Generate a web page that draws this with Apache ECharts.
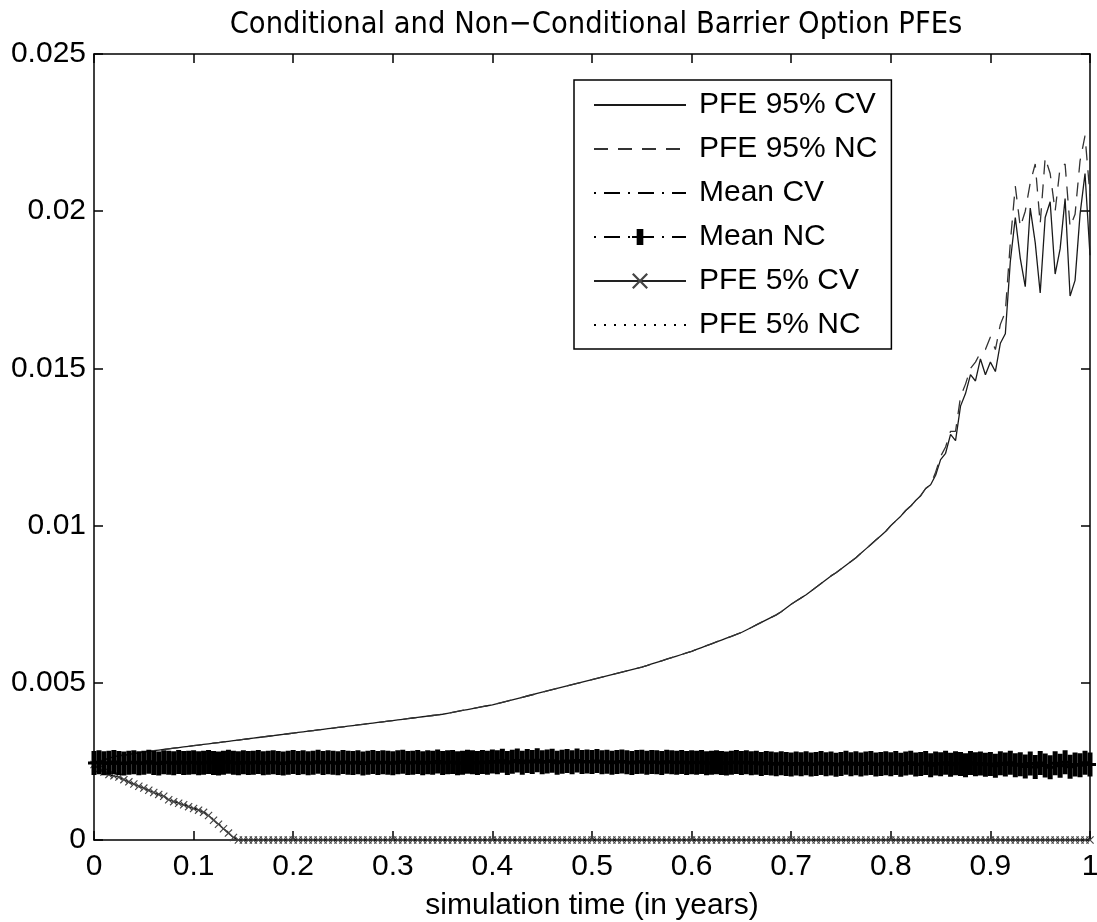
<!DOCTYPE html>
<html>
<head>
<meta charset="utf-8">
<script src="https://cdn.jsdelivr.net/npm/echarts@6/dist/echarts.min.js"></script>
<style>
html,body{margin:0;padding:0;background:#fff;}
#chart{width:1097px;height:922px;}
</style>
</head>
<body>
<div id="chart"></div>
<script>
// ---------------- DATA ----------------
const titleText = 'Conditional and Non\u2212Conditional Barrier Option PFEs';
const xAxisName = 'simulation time (in years)';
const seriesNames = ['PFE 95% CV', 'PFE 95% NC', 'Mean CV', 'Mean NC', 'PFE 5% CV', 'PFE 5% NC'];

// simulation time grid: 201 steps from 0 to 1
const time = [];
for (let i = 0; i <= 200; i++) time.push(i / 200);

// coarse time grid for the (hidden) mean CV curve
const meanCvTime = [0,0.05,0.1,0.15,0.2,0.25,0.3,0.35,0.4,0.45,0.5,0.55,0.6,0.65,0.7,0.75,0.8,0.85,0.9,0.95,1];

const pfe95CV = [
0.00245,0.00250,0.00255,0.00260,0.00265,0.00268,0.00270,0.00272,0.00275,0.00277,0.00280,0.00282,0.00284,0.00286,0.00288,0.00290,0.00292,0.00294,0.00296,0.00298,0.00300,
0.00302,0.00304,0.00306,0.00308,0.00310,0.00312,0.00314,0.00316,0.00318,0.00320,0.00322,0.00324,0.00326,0.00328,0.00330,0.00332,0.00334,0.00336,0.00338,0.00340,
0.00342,0.00344,0.00346,0.00348,0.00350,0.00352,0.00354,0.00356,0.00358,0.00360,0.00362,0.00364,0.00366,0.00368,0.00370,0.00372,0.00374,0.00376,0.00378,0.00380,
0.00382,0.00384,0.00386,0.00388,0.00390,0.00392,0.00394,0.00396,0.00398,0.00400,0.00403,0.00406,0.00409,0.00412,0.00415,0.00418,0.00421,0.00424,0.00427,0.00430,
0.00434,0.00438,0.00442,0.00446,0.00450,0.00454,0.00458,0.00462,0.00466,0.00470,0.00474,0.00478,0.00482,0.00486,0.00490,0.00494,0.00498,0.00502,0.00506,0.00510,
0.00514,0.00518,0.00522,0.00526,0.00530,0.00534,0.00538,0.00542,0.00546,0.00550,0.00555,0.00560,0.00565,0.00570,0.00575,0.00580,0.00585,0.00590,0.00595,0.00600,
0.00606,0.00612,0.00618,0.00624,0.00630,0.00636,0.00642,0.00648,0.00654,0.00660,0.00668,0.00676,0.00684,0.00692,0.00700,0.00708,0.00716,0.00726,0.00738,0.00750,
0.00760,0.00770,0.00780,0.00792,0.00804,0.00816,0.00828,0.00840,0.00850,0.00862,0.00874,0.00886,0.00898,0.00912,0.00926,0.00940,0.00954,0.00968,0.00982,0.01000,
0.01015,0.01030,0.01048,0.01062,0.01080,0.01095,0.01118,0.01130,0.01160,0.01210,0.01230,0.01290,0.01270,0.01380,0.01420,0.01480,0.01460,0.01530,0.01480,0.01520,
0.01490,0.01580,0.01610,0.01840,0.01980,0.01850,0.01760,0.02010,0.01900,0.01740,0.01980,0.02030,0.01800,0.01880,0.02040,0.01730,0.01780,0.01990,0.02120,0.01860
];

// non-conditional 95% PFE: identical to CV up to t=0.84, then its own noisy tail
const pfe95NCTail = [
0.01170,0.01220,0.01250,0.01300,0.01300,0.01410,0.01450,0.01500,0.01520,0.01550,0.01560,0.01600,
0.01560,0.01640,0.01680,0.01900,0.02080,0.01950,0.02000,0.02090,0.02150,0.01960,0.02170,0.02120,
0.02000,0.02140,0.02150,0.01950,0.01990,0.02160,0.02240,0.02050
];
const pfe95NC = pfe95CV.slice(0, 169).concat(pfe95NCTail);

const meanCV = [0.00240,0.00242,0.00243,0.00244,0.00245,0.00246,0.00246,0.00247,0.00247,0.00248,0.00248,0.00248,0.00247,0.00247,0.00246,0.00245,0.00244,0.00243,0.00242,0.00240,0.00239];

const meanNC = [
0.00245,0.00247,0.00244,0.00246,0.00248,0.00245,0.00243,0.00246,0.00247,0.00244,0.00246,0.00249,0.00245,0.00243,0.00247,0.00246,0.00244,0.00248,0.00245,0.00246,
0.00247,0.00244,0.00246,0.00248,0.00245,0.00243,0.00246,0.00249,0.00246,0.00244,0.00247,0.00245,0.00246,0.00248,0.00244,0.00246,0.00247,0.00245,0.00243,0.00246,
0.00248,0.00245,0.00247,0.00244,0.00246,0.00249,0.00245,0.00247,0.00246,0.00244,0.00248,0.00246,0.00245,0.00247,0.00243,0.00246,0.00248,0.00245,0.00247,0.00246,
0.00244,0.00247,0.00249,0.00245,0.00246,0.00248,0.00244,0.00247,0.00246,0.00250,0.00245,0.00247,0.00248,0.00244,0.00246,0.00249,0.00247,0.00245,0.00248,0.00246,
0.00250,0.00247,0.00252,0.00245,0.00249,0.00253,0.00246,0.00251,0.00248,0.00254,0.00247,0.00250,0.00252,0.00246,0.00249,0.00251,0.00247,0.00253,0.00248,0.00250,
0.00248,0.00251,0.00247,0.00249,0.00246,0.00248,0.00250,0.00247,0.00245,0.00248,0.00249,0.00246,0.00248,0.00247,0.00245,0.00249,0.00247,0.00246,0.00248,0.00245,
0.00247,0.00246,0.00248,0.00244,0.00246,0.00247,0.00245,0.00243,0.00246,0.00248,0.00245,0.00247,0.00244,0.00246,0.00242,0.00245,0.00243,0.00241,0.00244,0.00242,
0.00240,0.00243,0.00241,0.00244,0.00240,0.00242,0.00245,0.00241,0.00243,0.00239,0.00242,0.00246,0.00241,0.00244,0.00240,0.00243,0.00245,0.00240,0.00242,0.00244,
0.00241,0.00245,0.00239,0.00243,0.00246,0.00240,0.00242,0.00245,0.00238,0.00243,0.00241,0.00246,0.00239,0.00244,0.00242,0.00238,0.00245,0.00241,0.00243,0.00239,
0.00242,0.00236,0.00244,0.00240,0.00246,0.00238,0.00241,0.00234,0.00243,0.00232,0.00245,0.00237,0.00231,0.00244,0.00236,0.00247,0.00233,0.00240,0.00238,0.00246,0.00240
];

// 5% PFEs: decline from the mean to zero by t=0.14, then stay at zero
const pfe5CVHead = [
0.00240,0.00226,0.00216,0.00208,0.00204,0.00200,0.00192,0.00185,0.00178,0.00171,
0.00165,0.00158,0.00151,0.00145,0.00139,0.00128,0.00122,0.00117,0.00112,0.00106,
0.00100,0.00095,0.00088,0.00078,0.00063,0.00050,0.00036,0.00022,0.00008
];
const pfe5NCHead = [
0.00240,0.00228,0.00217,0.00209,0.00201,0.00198,0.00190,0.00183,0.00176,0.00170,
0.00163,0.00157,0.00150,0.00144,0.00138,0.00130,0.00125,0.00119,0.00114,0.00108,
0.00102,0.00097,0.00090,0.00079,0.00065,0.00052,0.00038,0.00024,0.00009
];
const pfe5Tail = [
0,0,0,0,0,0,0,0,0,0,0,0,0,0,0,0,0,0,0,0,
0,0,0,0,0,0,0,0,0,0,0,0,0,0,0,0,0,0,0,0,
0,0,0,0,0,0,0,0,0,0,0,0,0,0,0,0,0,0,0,0,
0,0,0,0,0,0,0,0,0,0,0,0,0,0,0,0,0,0,0,0,
0,0,0,0,0,0,0,0,0,0,0,0,0,0,0,0,0,0,0,0,
0,0,0,0,0,0,0,0,0,0,0,0,0,0,0,0,0,0,0,0,
0,0,0,0,0,0,0,0,0,0,0,0,0,0,0,0,0,0,0,0,
0,0,0,0,0,0,0,0,0,0,0,0,0,0,0,0,0,0,0,0,
0,0,0,0,0,0,0,0,0,0,0,0
];
const pfe5CV = pfe5CVHead.concat(pfe5Tail);
const pfe5NC = pfe5NCHead.concat(pfe5Tail);

// ---------------- CHART ----------------
function pairs(xs, ys) { return ys.map((v, i) => [xs[i], v]); }

const FONT = '"Liberation Sans", Arial, sans-serif';
const plusPath = 'path://M3.5,0 H8.5 V10.5 H12 V13.5 H8.5 V24 H3.5 V13.5 H0 V10.5 H3.5 Z';
const crossPath = 'path://M0,1 L1,0 L5,4 L9,0 L10,1 L6,5 L10,9 L9,10 L5,6 L1,10 L0,9 L4,5 Z';

const axisCommon = {
  type: 'value',
  axisLine: { show: true, onZero: false, lineStyle: { color: '#000', width: 1.5 } },
  axisTick: { show: true, inside: true, length: 9, lineStyle: { color: '#000', width: 1.5 } },
  splitLine: { show: false },
  axisLabel: { color: '#000', fontSize: 30, fontFamily: FONT }
};

const noSymbol = { opacity: 0 };

const chart = echarts.init(document.getElementById('chart'), null, { renderer: 'canvas' });
chart.setOption({
  animation: false,
  backgroundColor: '#fff',
  title: {
    text: titleText, left: 591, top: 5, textAlign: 'center',
    textStyle: { fontSize: 30.5, fontWeight: 'normal', color: '#000', fontFamily: '"Liberation Sans Narrow", "DejaVu Sans Condensed", ' + FONT }
  },
  grid: { left: 94, top: 54, right: 7, bottom: 82, containLabel: false, outerBoundsMode: 'none' },
  legend: {
    orient: 'vertical', left: 574, top: 80,
    data: [
      { name: seriesNames[0], itemStyle: noSymbol },
      { name: seriesNames[1], itemStyle: noSymbol },
      { name: seriesNames[2], itemStyle: noSymbol },
      { name: seriesNames[3] },
      { name: seriesNames[4] },
      { name: seriesNames[5], itemStyle: noSymbol }
    ],
    itemWidth: 92, itemHeight: 20, itemGap: 14,
    padding: [10, 14, 9, 19],
    borderColor: '#000', borderWidth: 1.5, backgroundColor: '#fff',
    textStyle: { fontSize: 30, lineHeight: 30, color: '#000', fontFamily: FONT, padding: [0, 0, 0, 8] }
  },
  xAxis: [
    Object.assign({}, axisCommon, {
      min: 0, max: 1, interval: 0.1, position: 'bottom',
      axisLabel: Object.assign({}, axisCommon.axisLabel, { margin: 12 }),
      name: xAxisName, nameLocation: 'middle', nameGap: 51,
      nameTextStyle: { fontSize: 30, color: '#000', fontFamily: FONT }
    }),
    Object.assign({}, axisCommon, {
      min: 0, max: 1, interval: 0.1, position: 'top', axisLabel: { show: false }
    })
  ],
  yAxis: [
    Object.assign({}, axisCommon, {
      min: 0, max: 0.025, interval: 0.005, position: 'left',
      axisLabel: Object.assign({}, axisCommon.axisLabel, { margin: 8 })
    }),
    Object.assign({}, axisCommon, {
      min: 0, max: 0.025, interval: 0.005, position: 'right', axisLabel: { show: false }
    })
  ],
  series: [
    {
      name: seriesNames[0], type: 'line', data: pairs(time, pfe95CV), symbol: 'none',
      lineStyle: { color: '#1a1a1a', width: 1.3, type: 'solid' }, itemStyle: { color: '#1a1a1a' }, z: 3
    },
    {
      name: seriesNames[1], type: 'line', data: pairs(time, pfe95NC), symbol: 'none',
      lineStyle: { color: '#333', width: 1.3, type: [14, 10] }, itemStyle: { color: '#333' }, z: 3
    },
    {
      name: seriesNames[2], type: 'line', data: pairs(meanCvTime, meanCV), symbol: 'none',
      lineStyle: { color: '#000', width: 1.3, type: [2, 8, 16, 8] }, itemStyle: { color: '#000' }, z: 2
    },
    {
      name: seriesNames[3], type: 'line', data: pairs(time, meanNC),
      symbol: plusPath, symbolSize: [12, 24], showSymbol: true,
      lineStyle: { color: '#000', width: 1.3, type: [2, 8, 16, 8] }, itemStyle: { color: '#000' }, z: 4
    },
    {
      name: seriesNames[4], type: 'line', data: pairs(time, pfe5CV),
      symbol: crossPath, symbolSize: 8, showSymbol: true,
      lineStyle: { color: '#222', width: 1.3 }, itemStyle: { color: '#444' }, z: 3
    },
    {
      name: seriesNames[5], type: 'line', data: pairs(time, pfe5NC), symbol: 'none',
      lineStyle: { color: '#000', width: 1.3, type: [2, 8] }, itemStyle: { color: '#000' }, z: 3
    }
  ]
});
</script>
</body>
</html>
